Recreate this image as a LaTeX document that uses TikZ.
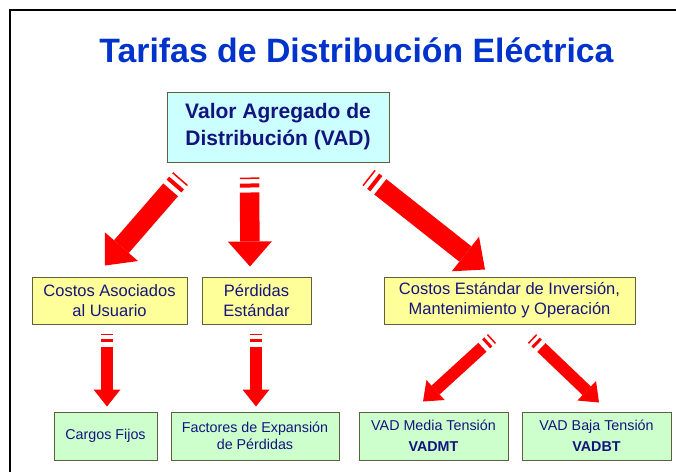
\documentclass[tikz,border=0pt]{standalone}
\usepackage{fontspec}
\setmainfont{Liberation Sans}
\usetikzlibrary{calc,arrows.meta}
\usepackage{xcolor}
\definecolor{tBlue}{HTML}{0033CC}
\definecolor{tNavy}{HTML}{14147F}
\definecolor{tEdge}{HTML}{606040}
\definecolor{tCyan}{HTML}{CCFFFF}
\definecolor{tYellow}{HTML}{FFFF99}
\definecolor{tGreen}{HTML}{CCFFCC}
\definecolor{tRed}{HTML}{FF0000}

\begin{document}
\begin{tikzpicture}[x=1pt,y=-1pt]
    \tikzset{
        box/.style={draw=tEdge, line width=1pt, text=tNavy, align=center, inner sep=0pt},
        topbox/.style={box, fill=tCyan, minimum width=222pt, minimum height=70pt, font=\bfseries\fontsize{21}{27}\selectfont},
        midbox/.style={box, fill=tYellow, minimum height=47pt, font=\fontsize{16.5}{20}\selectfont},
        lowbox/.style={box, fill=tGreen, minimum height=48pt, font=\fontsize{14.3}{21}\selectfont},
        bigarrow/.style={color=tRed, line width=19.5pt, dash pattern=on 1.5pt off 4.5pt on 4pt off 5pt on 400pt,
            -{Triangle[length=25pt,width=44pt,line width=0pt]}},
        smallarrow/.style={color=tRed, line width=12pt, dash pattern=on 1.5pt off 3.5pt on 3pt off 5pt on 400pt,
            -{Triangle[length=17pt,width=27pt,line width=0pt]}}
    }
    \useasboundingbox (0,0) rectangle (676,472);
    \draw[line width=1.8pt] (676,10.2) -- (10.2,10.2) -- (10.2,472);

    \node[anchor=base, text=tBlue, font=\bfseries\fontsize{33.8}{40}\selectfont] (ttl) at (356.5,62) {Tarifas de Distribución Eléctrica};

    \node[topbox] (vad) at (278,127) {Valor Agregado de\\Distribución (VAD)};

    \node[midbox, minimum width=155pt] (cau) at (109.5,300.5) {Costos Asociados\\al Usuario};
    \node[midbox, minimum width=109pt] (per) at (256.5,300.5) {Pérdidas\\Estándar};
    \node[midbox, minimum width=251pt] (cem) at (509.5,300.5) {Costos Estándar de Inversión,\\Mantenimiento y Operación};

    \node[lowbox, minimum width=103pt] (cfi) at (105.5,436) {Cargos Fijos};
    \node[lowbox, minimum width=168pt, font=\fontsize{14.3}{17}\selectfont] (fep) at (255,436) {Factores de Expansión\\de Pérdidas};
    \node[lowbox, minimum width=149pt] (vmt) at (433.5,436) {VAD Media Tensión\\\textbf{VADMT}};
    \node[lowbox, minimum width=149pt] (vbt) at (596.5,436) {VAD Baja Tensión\\\textbf{VADBT}};

    \draw[bigarrow] ($(vad.south west)+(14,16)$) -- ($(cau.north)+(-4.5,-11)$);
    \draw[bigarrow] ($(vad.south west)+(83,15)$) -- ($(per.north)+(-6.5,-10)$);
    \draw[bigarrow] ($(vad.south east)+(-21,15)$) -- ($(cem.north)+(-24.5,-7)$);

    \draw[smallarrow] ($(cau.south)+(-2.5,9)$) -- ($(cfi.north)+(1.5,-5)$);
    \draw[smallarrow] ($(per.south)+(-0.5,9)$) -- ($(fep.north)+(1,-5)$);
    \draw[smallarrow] ($(cem.south)+(-17.5,14)$) -- ($(vmt.north)+(-10.5,-10)$);
    \draw[smallarrow] ($(cem.south)+(22.5,14)$) -- ($(vbt.north)+(2.5,-9)$);
\end{tikzpicture}
\end{document}
